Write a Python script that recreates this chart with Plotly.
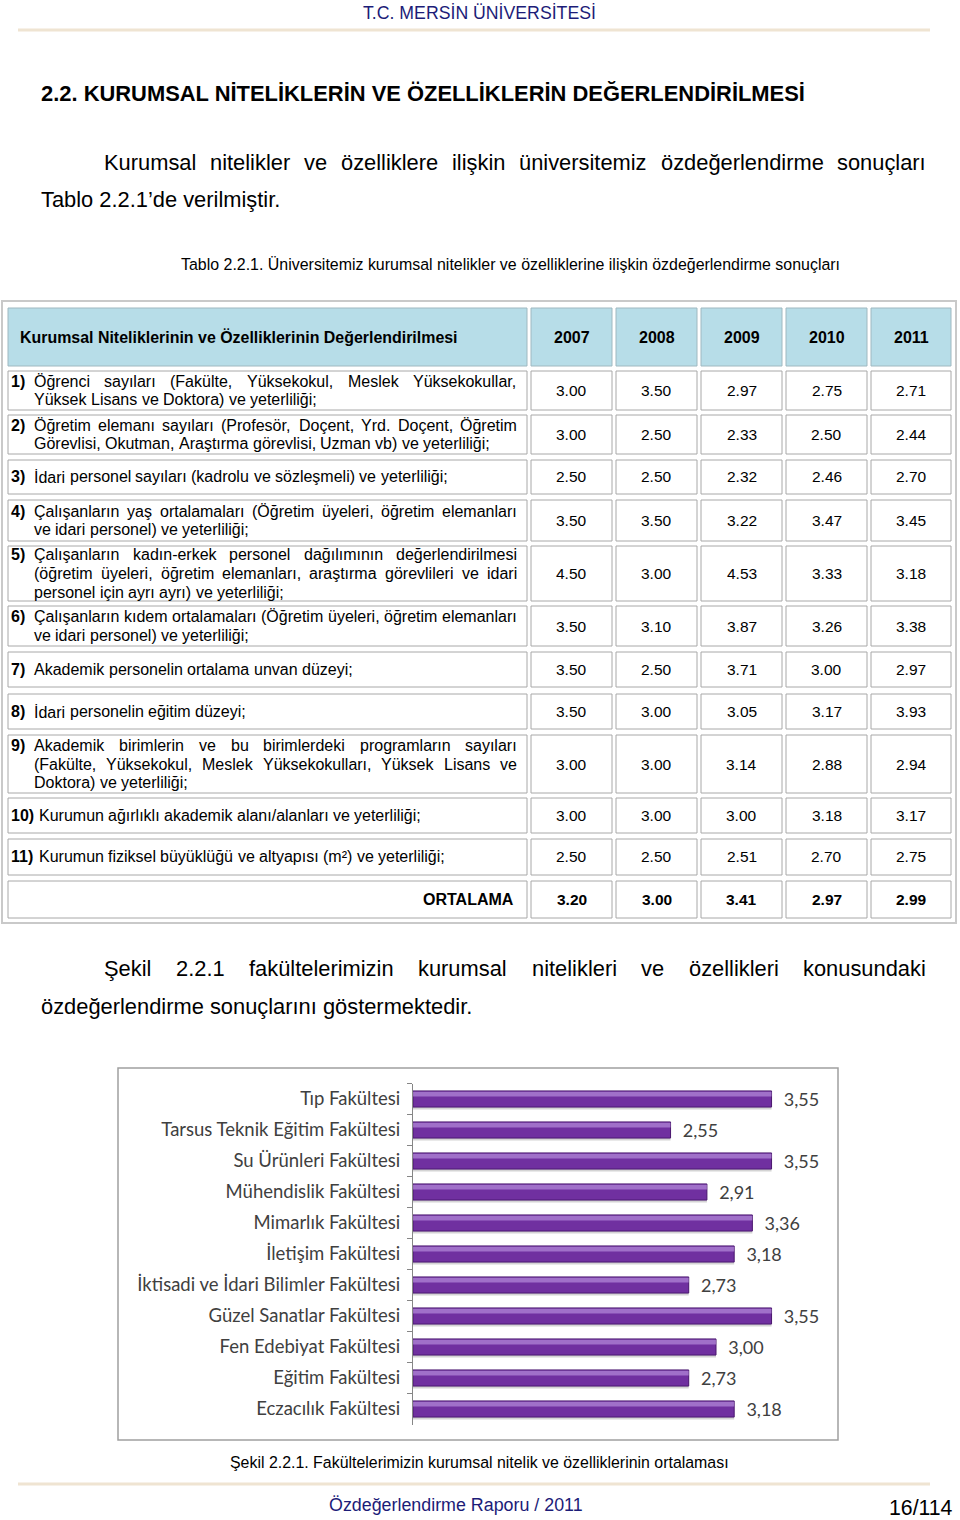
import plotly.graph_objects as go

W, H = 960, 1520

# ---------------- data ----------------
faculties = ["Tıp Fakültesi", "Tarsus Teknik Eğitim Fakültesi", "Su Ürünleri Fakültesi",
             "Mühendislik Fakültesi", "Mimarlık Fakültesi", "İletişim Fakültesi",
             "İktisadi ve İdari Bilimler Fakültesi", "Güzel Sanatlar Fakültesi",
             "Fen Edebiyat Fakültesi", "Eğitim Fakültesi", "Eczacılık Fakültesi"]
faculty_scores = [3.55, 2.55, 3.55, 2.91, 3.36, 3.18, 2.73, 3.55, 3.00, 2.73, 3.18]

years = ["2007", "2008", "2009", "2010", "2011"]
criteria_numbers = ["1)", "2)", "3)", "4)", "5)", "6)", "7)", "8)", "9)", "10)", "11)"]
criteria_lines = [
    ["Öğrenci sayıları (Fakülte, Yüksekokul, Meslek Yüksekokullar,",
     "Yüksek Lisans ve Doktora) ve yeterliliği;"],
    ["Öğretim elemanı sayıları (Profesör, Doçent, Yrd. Doçent, Öğretim",
     "Görevlisi, Okutman, Araştırma görevlisi, Uzman vb) ve yeterliliği;"],
    ["İdari personel sayıları (kadrolu ve sözleşmeli) ve yeterliliği;"],
    ["Çalışanların yaş ortalamaları (Öğretim üyeleri, öğretim elemanları",
     "ve idari personel) ve yeterliliği;"],
    ["Çalışanların kadın-erkek personel dağılımının değerlendirilmesi",
     "(öğretim üyeleri, öğretim elemanları, araştırma görevlileri ve idari",
     "personel için ayrı ayrı) ve yeterliliği;"],
    ["Çalışanların kıdem ortalamaları (Öğretim üyeleri, öğretim elemanları",
     "ve idari personel) ve yeterliliği;"],
    ["Akademik personelin ortalama unvan düzeyi;"],
    ["İdari personelin eğitim düzeyi;"],
    ["Akademik birimlerin ve bu birimlerdeki programların sayıları",
     "(Fakülte, Yüksekokul, Meslek Yüksekokulları, Yüksek Lisans ve",
     "Doktora) ve yeterliliği;"],
    ["Kurumun ağırlıklı akademik alanı/alanları ve yeterliliği;"],
    ["Kurumun fiziksel büyüklüğü ve altyapısı (m²) ve yeterliliği;"],
]
scores_2007 = [3.00, 3.00, 2.50, 3.50, 4.50, 3.50, 3.50, 3.50, 3.00, 3.00, 2.50]
scores_2008 = [3.50, 2.50, 2.50, 3.50, 3.00, 3.10, 2.50, 3.00, 3.00, 3.00, 2.50]
scores_2009 = [2.97, 2.33, 2.32, 3.22, 4.53, 3.87, 3.71, 3.05, 3.14, 3.00, 2.51]
scores_2010 = [2.75, 2.50, 2.46, 3.47, 3.33, 3.26, 3.00, 3.17, 2.88, 3.18, 2.70]
scores_2011 = [2.71, 2.44, 2.70, 3.45, 3.18, 3.38, 2.97, 3.93, 2.94, 3.17, 2.75]
averages = [3.20, 3.00, 3.41, 2.97, 2.99]
average_label = "ORTALAMA"
table_header = "Kurumsal Niteliklerinin ve Özelliklerinin Değerlendirilmesi"

page_header = "T.C. MERSİN ÜNİVERSİTESİ"
section_title = "2.2. KURUMSAL NİTELİKLERİN VE ÖZELLİKLERİN DEĞERLENDİRİLMESİ"
para1 = ["Kurumsal nitelikler ve özelliklere ilişkin üniversitemiz özdeğerlendirme sonuçları",
         "Tablo 2.2.1’de verilmiştir."]
table_caption = "Tablo 2.2.1. Üniversitemiz kurumsal nitelikler ve özelliklerine ilişkin özdeğerlendirme sonuçları"
para2 = ["Şekil 2.2.1 fakültelerimizin kurumsal nitelikleri ve özellikleri konusundaki",
         "özdeğerlendirme sonuçlarını göstermektedir."]
chart_caption = "Şekil 2.2.1. Fakültelerimizin kurumsal nitelik ve özelliklerinin ortalaması"
footer_text = "Özdeğerlendirme Raporu / 2011"
page_number = "16/114"

# ---------------- text metrics (Arial / Liberation Sans) ----------------
REG = {' ': 278, '!': 278, '(': 333, ')': 333, ',': 278, '-': 333, '.': 278, '/': 278,
       ':': 278, ';': 278, '’': 222, "'": 191, '²': 333}
BOLD = {' ': 278, '!': 333, '(': 333, ')': 333, ',': 278, '-': 333, '.': 278, '/': 278,
        ':': 333, ';': 333, '’': 278, "'": 238, '²': 333}
for d in '0123456789':
    REG[d] = 556; BOLD[d] = 556
REG.update(dict(zip("ABCDEFGHIJKLMNOPQRSTUVWXYZ",
    [667,667,722,722,667,611,778,722,278,500,667,556,833,722,778,667,778,722,667,611,722,667,944,667,667,611])))
REG.update(dict(zip("abcdefghijklmnopqrstuvwxyz",
    [556,556,500,556,556,278,556,556,222,222,500,222,833,556,556,556,556,333,500,278,556,500,722,500,500,500])))
REG.update({'ç': 500, 'ğ': 556, 'ı': 278, 'ö': 556, 'ş': 500, 'ü': 556,
            'Ç': 722, 'Ğ': 778, 'İ': 278, 'Ö': 778, 'Ş': 667, 'Ü': 722})
BOLD.update(dict(zip("ABCDEFGHIJKLMNOPQRSTUVWXYZ",
    [722,722,722,722,667,611,778,722,278,556,722,611,833,722,778,667,778,722,667,611,722,667,944,667,667,611])))
BOLD.update(dict(zip("abcdefghijklmnopqrstuvwxyz",
    [556,611,556,611,556,333,611,611,278,278,556,278,889,611,611,611,611,389,556,333,611,556,778,556,556,500])))
BOLD.update({'ç': 556, 'ğ': 611, 'ı': 278, 'ö': 611, 'ş': 556, 'ü': 611,
             'Ç': 722, 'Ğ': 778, 'İ': 278, 'Ö': 778, 'Ş': 667, 'Ü': 722})


def tw(s, bold=False):
    t = BOLD if bold else REG
    return sum(t.get(c, 556) for c in s) / 1000.0


def fit(s, width, bold=False):
    return width / tw(s, bold)


ARIAL = "Liberation Sans, Arial, sans-serif"
CHARTFONT = "Lato, Open Sans, sans-serif"

annotations = []
shapes = []


def X(px):
    return px / W


def Y(py):
    return 1 - py / H


def text_at(x, y, s, size, color="#000000", bold=False, anchor="left", family=ARIAL):
    annotations.append(dict(x=X(x), y=Y(y), xref="paper", yref="paper",
                            text=f"<b>{s}</b>" if bold else s, showarrow=False,
                            xanchor=anchor, yanchor="middle", borderpad=0,
                            font=dict(family=family, size=size, color=color)))


def place_words(words, x0, y, size, x1=None, bold=False, color="#000000"):
    widths = [tw(w, bold) * size for w in words]
    if x1 is not None and len(words) > 1:
        gap = (x1 - x0 - sum(widths)) / (len(words) - 1)
    else:
        gap = REG[' '] / 1000.0 * size
    x = x0
    for w, wd in zip(words, widths):
        text_at(x, y, w, size, color=color, bold=bold)
        x += wd + gap


def rect(x0, y0, x1, y1, line="#a6a6a6", fill="rgba(0,0,0,0)", width=1):
    shapes.append(dict(type="rect", xref="paper", yref="paper", x0=X(x0), x1=X(x1),
                       y0=Y(y0), y1=Y(y1), line=dict(color=line, width=width),
                       fillcolor=fill, layer="below"))


def hline(x0, x1, y, color, width):
    shapes.append(dict(type="line", xref="paper", yref="paper", x0=X(x0), x1=X(x1),
                       y0=Y(y), y1=Y(y), line=dict(color=color, width=width), layer="below"))


# ---------------- page header ----------------
text_at(479, 13, page_header, fit(page_header, 235), color="#1c1c78", anchor="center")
hline(18, 930, 30, "#efe4d2", 3)
text_at(40, 93, section_title, fit(section_title, 765, True), bold=True)

body_size = fit(para1[1], 243)
place_words(para1[0].split(), 103, 162, body_size, x1=925)
text_at(40, 200, para1[1], body_size)
text_at(180, 265, table_caption, fit(table_caption, 661))

# ---------------- table ----------------
col0 = (8, 527)
year_cols = [(531, 612), (616, 697), (701, 782), (786, 867), (871, 951)]
header_row = (308, 366)
row_bounds = [(371, 410), (415, 454), (460, 494), (500, 541), (546, 601), (606, 646),
              (652, 687), (694, 729), (735, 793), (798, 833), (839, 875)]
avg_row = (881, 918)
TS = 16.0      # table text size
VS = 15.5      # value size
LINE = 18.8
HEAD_FILL = "#b7dde8"
CELL_LINE = "#a8a8a8"

rect(2, 301, 956, 923, line="#c9c9c9", width=2)

rect(col0[0], header_row[0], col0[1], header_row[1], line="#9fb8c0", fill=HEAD_FILL)
hy = (header_row[0] + header_row[1]) / 2
text_at(19, hy, table_header, fit(table_header, 438, True), bold=True)
for (a, b), yr in zip(year_cols, years):
    rect(a, header_row[0], b, header_row[1], line="#9fb8c0", fill=HEAD_FILL)
    text_at((a + b) / 2, hy, yr, TS, bold=True, anchor="center")

all_scores = [scores_2007, scores_2008, scores_2009, scores_2010, scores_2011]
TEXT_RIGHT = 516
for i, (top, bot) in enumerate(row_bounds):
    rect(col0[0], top, col0[1], bot, line=CELL_LINE, fill="#ffffff")
    cy = (top + bot) / 2
    lines = criteria_lines[i]
    n = len(lines)
    num = criteria_numbers[i]
    text_start = max(33, 10 + (tw(num, True) + tw(" ")) * TS)
    for k, ln in enumerate(lines):
        ly = cy + (k - (n - 1) / 2) * LINE
        if k == 0:
            text_at(10, ly, num, TS, bold=True)
        justify = (k < n - 1)
        place_words(ln.split(), text_start if k == 0 else 33, ly, TS,
                    x1=TEXT_RIGHT if justify else None)
    for (a, b), sc in zip(year_cols, all_scores):
        rect(a, top, b, bot, line=CELL_LINE, fill="#ffffff")
        text_at((a + b) / 2, cy, f"{sc[i]:.2f}", VS, anchor="center")

top, bot = avg_row
cy = (top + bot) / 2
rect(col0[0], top, col0[1], bot, line=CELL_LINE, fill="#ffffff")
text_at(515, cy, average_label, TS, bold=True, anchor="right")
for (a, b), v in zip(year_cols, averages):
    rect(a, top, b, bot, line=CELL_LINE, fill="#ffffff")
    text_at((a + b) / 2, cy, f"{v:.2f}", VS, bold=True, anchor="center")

# ---------------- second paragraph ----------------
place_words(para2[0].split(), 103, 968, body_size, x1=925)
text_at(40, 1006, para2[1], body_size)

# ---------------- chart frame ----------------
rect(118, 1068, 838, 1440, line="#a0a0a0", fill="#ffffff", width=1.5)

text_at(229, 1462, chart_caption, fit(chart_caption, 499))
hline(18, 930, 1484, "#efe4d2", 3)
text_at(328, 1505, footer_text, fit(footer_text, 255), color="#1c1c78")
text_at(888, 1508, page_number, fit(page_number, 65))

# ---------------- bar chart ----------------
ax_left, ax_right = 413, 830
ax_top, ax_bot = 1083.5, 1424.5
px_per_unit = 101.0

fig = go.Figure()
fig.add_trace(go.Bar(y=faculties, x=faculty_scores, orientation="h",
                     width=0.52, offset=-0.18,
                     marker=dict(color="rgba(60,60,60,0.22)", line=dict(width=0)),
                     hoverinfo="skip", showlegend=False))
fig.add_trace(go.Bar(y=faculties, x=faculty_scores, orientation="h",
                     width=0.52, offset=-0.26,
                     marker=dict(color="#7030a0", line=dict(color="#4a176f", width=1)),
                     texttemplate="\u00a0\u00a0%{x:.2f}", textposition="outside",
                     constraintext="none",
                     textfont=dict(family=CHARTFONT, size=18, color="#404040"),
                     cliponaxis=False, hoverinfo="skip", showlegend=False))
fig.add_trace(go.Bar(y=faculties, x=faculty_scores, orientation="h",
                     width=0.15, offset=-0.23,
                     marker=dict(color="rgba(200,165,235,0.55)", line=dict(width=0)),
                     hoverinfo="skip", showlegend=False))

fig.update_layout(
    width=W, height=H, margin=dict(l=0, r=0, t=0, b=0),
    paper_bgcolor="#ffffff", plot_bgcolor="rgba(0,0,0,0)",
    barmode="overlay", separators=", ",
    annotations=annotations, shapes=shapes,
    xaxis=dict(domain=[X(ax_left), X(ax_right)],
               range=[0, (ax_right - ax_left) / px_per_unit],
               visible=False, fixedrange=True),
    yaxis=dict(domain=[Y(ax_bot), Y(ax_top)], type="category",
               categoryorder="array", categoryarray=faculties, autorange="reversed",
               showline=True, linecolor="#868686", linewidth=1,
               ticks="outside", tickson="boundaries", ticklen=5, tickcolor="#868686",
               ticklabelstandoff=8, showgrid=False, zeroline=False,
               tickfont=dict(family=CHARTFONT, size=18.5, color="#404040"),
               fixedrange=True),
)

# remove the browser's default 8px body margin so the page maps 1:1 onto the figure
fig.write_html("out.html", config={"displayModeBar": False},
               post_script="document.body.style.margin='0';")
